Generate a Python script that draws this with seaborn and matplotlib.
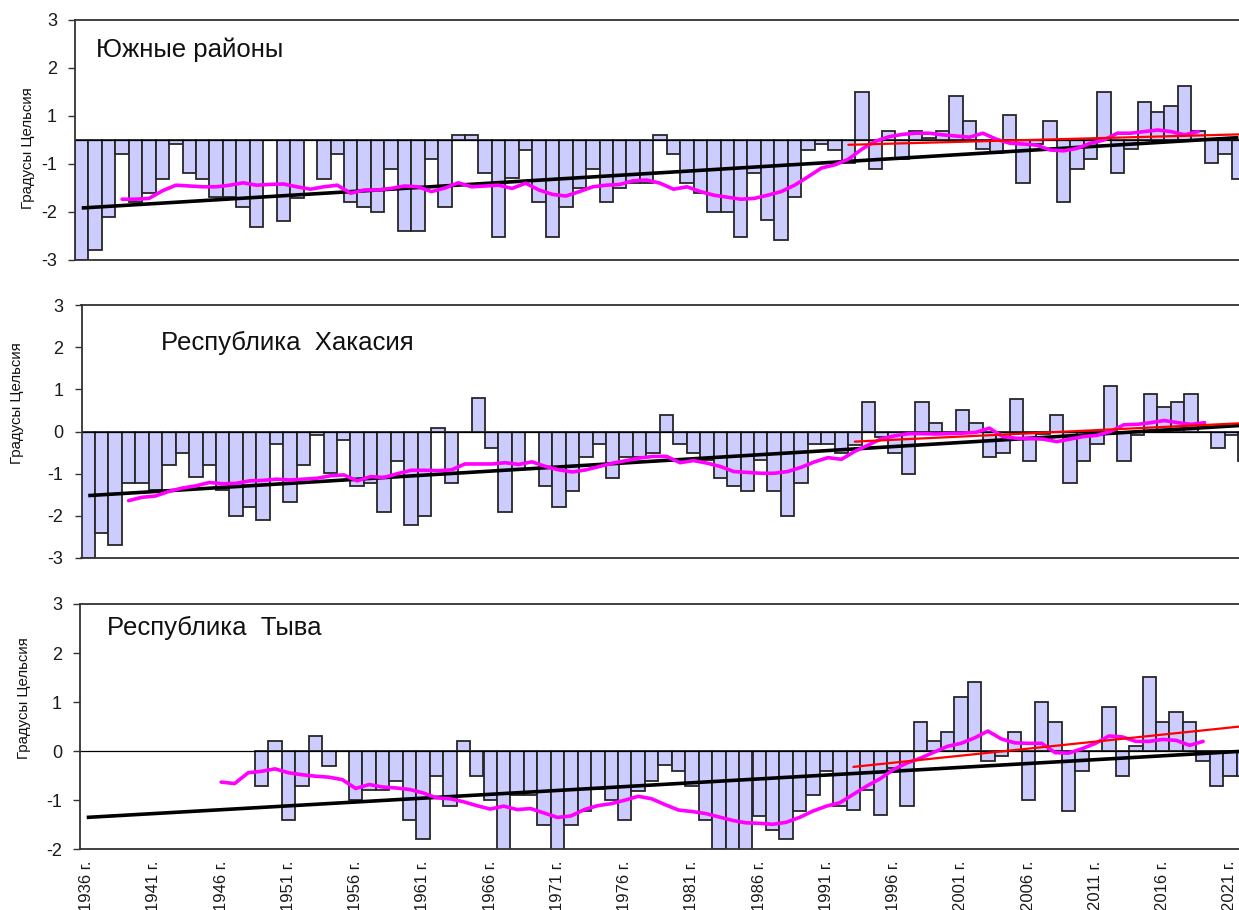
import numpy as np
import pandas as pd
import matplotlib
matplotlib.use("Agg")
import matplotlib.pyplot as plt
import seaborn as sns
from matplotlib.ticker import FixedLocator, FuncFormatter

sns.set_style("white")
plt.rcParams["font.family"] = ["Liberation Sans", "DejaVu Sans"]
plt.rcParams["axes.unicode_minus"] = False

# ---------------------------------------------------------------- data
years = list(range(1936, 2023))

# annual temperature anomalies, °C
south = [
    -3.00, -2.75, -1.93, -0.35, -1.55, -1.32, -0.98, -0.10, -0.83, -0.98,
    -1.43, -1.43, -1.68, -2.17, 0.00, -2.02, -1.46, 0.00, -0.97, -0.35,
    -1.54, -1.68, -1.79, -0.73, -2.27, -2.27, -0.48, -1.68, 0.13, 0.13,
    -0.83, -2.42, -0.95, -0.25, -1.55, -2.42, -1.68, -1.20, -0.73, -1.55,
    -1.20, -1.07, -1.07, 0.13, -0.35, -1.07, -1.32, -1.80, -1.80, -2.42,
    -0.82, -2.00, -2.50, -1.43, -0.25, -0.10, -0.25, -0.58, 1.20, -0.73,
    0.23, -0.48, 0.23, 0.05, 0.23, 1.10, 0.48, -0.23, -0.33, 0.63,
    -1.07, -0.10, 0.48, -1.55, -0.73, -0.48, 1.20, -0.83, -0.23, 0.96,
    0.71, 0.85, 1.35, 0.23, -0.58, -0.35, -0.98,
]

khakassia = [
    -3.00, -2.40, -2.70, -1.21, -1.21, -1.38, -0.79, -0.51, -1.08, -0.79,
    -1.38, -2.00, -1.79, -2.09, -0.30, -1.68, -0.79, -0.09, -0.99, -0.21,
    -1.30, -1.21, -1.90, -0.69, -2.21, -2.00, 0.09, -1.21, 0.00, 0.79,
    -0.40, -1.90, -0.90, 0.00, -1.30, -1.79, -1.40, -0.60, -0.30, -1.10,
    -0.60, -0.60, -0.51, 0.40, -0.30, -0.51, -0.67, -1.10, -1.30, -1.40,
    -0.67, -1.40, -2.00, -1.21, -0.30, -0.30, -0.51, -0.32, 0.69, -0.12,
    -0.51, -1.00, 0.69, 0.20, 0.00, 0.51, 0.20, -0.61, -0.51, 0.78,
    -0.70, -0.05, 0.39, -1.21, -0.70, -0.30, 1.08, -0.70, -0.09, 0.89,
    0.59, 0.69, 0.89, 0.00, -0.40, -0.09, -0.70,
]

tuva_first_year = 1949
tuva = [
    -0.71, 0.20, -1.41, -0.71, 0.31, -0.31, 0.00, -1.00, -0.80, -0.80,
    -0.61, -1.41, -1.79, -0.51, -1.12, 0.20, -0.51, -1.00, -2.10, -0.90,
    -0.90, -1.51, -2.10, -1.51, -1.21, -0.77, -1.00, -1.41, -0.81, -0.61,
    -0.29, -0.41, -0.71, -1.41, -2.00, -2.10, -2.10, -1.32, -1.61, -1.79,
    -1.21, -0.90, -0.41, -1.11, -1.20, -0.80, -1.31, -0.35, -1.11, 0.60,
    0.20, 0.39, 1.11, 1.41, -0.20, -0.10, 0.39, -1.00, 1.00, 0.60,
    -1.21, -0.41, 0.00, 0.90, -0.51, 0.10, 1.51, 0.60, 0.80, 0.60,
    -0.20, -0.71, -0.51, -0.51,
]

# smoothed anomalies (magenta curves)
south_smooth_first_year = 1939
south_smooth = [
    -1.48, -1.48, -1.46, -1.27, -1.13, -1.15, -1.17, -1.17, -1.13, -1.07,
    -1.13, -1.11, -1.10, -1.17, -1.23, -1.17, -1.13, -1.33, -1.25, -1.25,
    -1.21, -1.15, -1.17, -1.29, -1.20, -1.07, -1.17, -1.15, -1.13, -1.21,
    -1.08, -1.25, -1.36, -1.40, -1.29, -1.17, -1.13, -1.11, -1.02, -1.00,
    -1.08, -1.23, -1.17, -1.29, -1.38, -1.43, -1.48, -1.46, -1.38, -1.29,
    -1.13, -0.92, -0.70, -0.62, -0.48, -0.23, -0.03, 0.08, 0.14, 0.17,
    0.17, 0.13, 0.10, 0.07, 0.17, 0.02, -0.08, -0.10, -0.13, -0.25,
    -0.27, -0.21, -0.08, 0.00, 0.17, 0.17, 0.21, 0.25, 0.21, 0.13,
    0.21,
]

khakassia_smooth_first_year = 1939
khakassia_smooth = [
    -1.64, -1.56, -1.53, -1.42, -1.34, -1.29, -1.21, -1.24, -1.23, -1.17,
    -1.16, -1.13, -1.15, -1.13, -1.11, -1.05, -1.03, -1.17, -1.07, -1.09,
    -1.00, -0.92, -0.92, -0.93, -0.91, -0.77, -0.77, -0.77, -0.74, -0.78,
    -0.72, -0.83, -0.91, -0.96, -0.91, -0.83, -0.75, -0.69, -0.63, -0.59,
    -0.59, -0.74, -0.69, -0.75, -0.83, -0.95, -0.97, -0.99, -0.99, -0.95,
    -0.85, -0.72, -0.62, -0.66, -0.47, -0.32, -0.17, -0.10, -0.05, -0.05,
    -0.06, -0.05, -0.04, -0.02, 0.08, -0.12, -0.16, -0.17, -0.18, -0.24,
    -0.18, -0.12, -0.09, 0.00, 0.16, 0.17, 0.21, 0.26, 0.21, 0.17,
    0.21,
]

tuva_smooth_first_year = 1946
tuva_smooth = [
    -0.63, -0.66, -0.44, -0.41, -0.36, -0.44, -0.48, -0.51, -0.53, -0.58,
    -0.76, -0.68, -0.73, -0.75, -0.78, -0.85, -0.95, -0.97, -1.03, -1.11,
    -1.18, -1.12, -1.19, -1.17, -1.26, -1.35, -1.32, -1.19, -1.11, -1.07,
    -1.00, -0.92, -0.97, -1.09, -1.20, -1.23, -1.27, -1.34, -1.41, -1.46,
    -1.47, -1.49, -1.45, -1.35, -1.22, -1.12, -1.05, -0.88, -0.71, -0.56,
    -0.37, -0.24, -0.14, -0.02, 0.10, 0.16, 0.27, 0.41, 0.25, 0.17,
    0.16, 0.16, -0.03, -0.04, 0.05, 0.16, 0.31, 0.29, 0.20, 0.20,
    0.24, 0.22, 0.12, 0.20,
]

# linear trends: whole period and since 1993 (values at the end years)
trend_years = [1936, 2022]
recent_years = [1993, 2022]
south_trend = [-1.70, 0.06]
south_recent = [-0.12, 0.14]
khakassia_trend = [-1.52, 0.15]
khakassia_recent = [-0.24, 0.20]
tuva_trend = [-1.35, 0.00]
tuva_recent = [-0.32, 0.51]

panel_titles = ["Южные районы", "Республика  Хакасия", "Республика  Тыва"]
y_label = "Градусы Цельсия"
tick_years = list(range(1936, 2022, 5))
tick_labels = [f"{y} г." for y in tick_years]

# ---------------------------------------------------------------- layout
W, H = 1239, 910
YEAR_PX = 13.45
fig = plt.figure(figsize=(W / 100, H / 100), dpi=100)


def add_panel(left, top, bottom):
    width = YEAR_PX * len(years)
    return fig.add_axes([left / W, 1 - bottom / H, width / W, (bottom - top) / H])


panels = [
    dict(ax=add_panel(75, 20, 260), values=south, first=years[0],
         smooth=south_smooth, smooth_first=south_smooth_first_year,
         trend=south_trend, recent=south_recent,
         ylim=(-3, 3), yticks=[3, 1.8, 0.6, -0.6, -1.8, -3],
         title=panel_titles[0], title_xy=(96, 50), ylabel_xy=(28, 148)),
    dict(ax=add_panel(81.5, 305, 558), values=khakassia, first=years[0],
         smooth=khakassia_smooth, smooth_first=khakassia_smooth_first_year,
         trend=khakassia_trend, recent=khakassia_recent,
         ylim=(-3, 3), yticks=[3, 2, 1, 0, -1, -2, -3],
         title=panel_titles[1], title_xy=(161, 343), ylabel_xy=(17, 403)),
    dict(ax=add_panel(80, 604, 849.3), values=tuva, first=tuva_first_year,
         smooth=tuva_smooth, smooth_first=tuva_smooth_first_year,
         trend=tuva_trend, recent=tuva_recent,
         ylim=(-2, 3), yticks=[3, 2, 1, 0, -1, -2],
         title=panel_titles[2], title_xy=(107, 628), ylabel_xy=(24, 698)),
]

BAR_FILL = "#CCCCFF"
BAR_EDGE = "#262626"
FRAME = "#333333"

for k, p in enumerate(panels):
    ax = p["ax"]
    bar_years = list(range(p["first"], p["first"] + len(p["values"])))
    df = pd.DataFrame({"year": bar_years, "anomaly": p["values"]})
    sns.barplot(data=df, x="year", y="anomaly", native_scale=True, width=1.0,
                color=BAR_FILL, saturation=1, edgecolor=BAR_EDGE, linewidth=1.3,
                errorbar=None, ax=ax, zorder=2)

    ax.axhline(0, color="black", lw=0.9, zorder=2.5)

    # whole-period trend
    sns.lineplot(x=trend_years, y=p["trend"], ax=ax, color="black", lw=2.6,
                 zorder=3, solid_capstyle="butt")
    # smoothed curve
    sm_years = list(range(p["smooth_first"], p["smooth_first"] + len(p["smooth"])))
    sns.lineplot(x=sm_years, y=p["smooth"], ax=ax, color="#FF00FF", lw=2.6,
                 zorder=4, estimator=None)
    # trend since 1993
    sns.lineplot(x=recent_years, y=p["recent"], ax=ax, color="#FF0000", lw=1.6,
                 zorder=5)

    ax.set_xlim(years[0] - 0.5, years[-1] + 0.5)
    ax.set_ylim(*p["ylim"])
    ax.yaxis.set_major_locator(FixedLocator(p["yticks"]))
    ax.yaxis.set_major_formatter(FuncFormatter(lambda v, pos: f"{v:.0f}"))
    ax.tick_params(axis="y", direction="out", length=5, width=1.0, color=FRAME,
                   labelsize=13, labelcolor="#1a1a1a", pad=8, left=True)
    ax.set_xlabel("")
    ax.set_ylabel("")

    if k == len(panels) - 1:
        ax.set_xticks(tick_years)
        ax.set_xticklabels(tick_labels, rotation=90, fontsize=12,
                           color="#1a1a1a", ha="center", va="top")
        ax.tick_params(axis="x", length=0, pad=8)
    else:
        ax.set_xticks([])

    for side in ("left", "top", "bottom", "right"):
        ax.spines[side].set_visible(True)
        ax.spines[side].set_color(FRAME)
        ax.spines[side].set_linewidth(1.3)

    tx, ty = p["title_xy"]
    fig.text(tx / W, 1 - ty / H, p["title"], fontsize=18.5, color="#111111",
             ha="left", va="center")
    lx, ly = p["ylabel_xy"]
    fig.text(lx / W, 1 - ly / H, y_label, rotation=90, fontsize=10.8,
             color="#111111", ha="center", va="center")

fig.savefig("out.png", dpi=100)
